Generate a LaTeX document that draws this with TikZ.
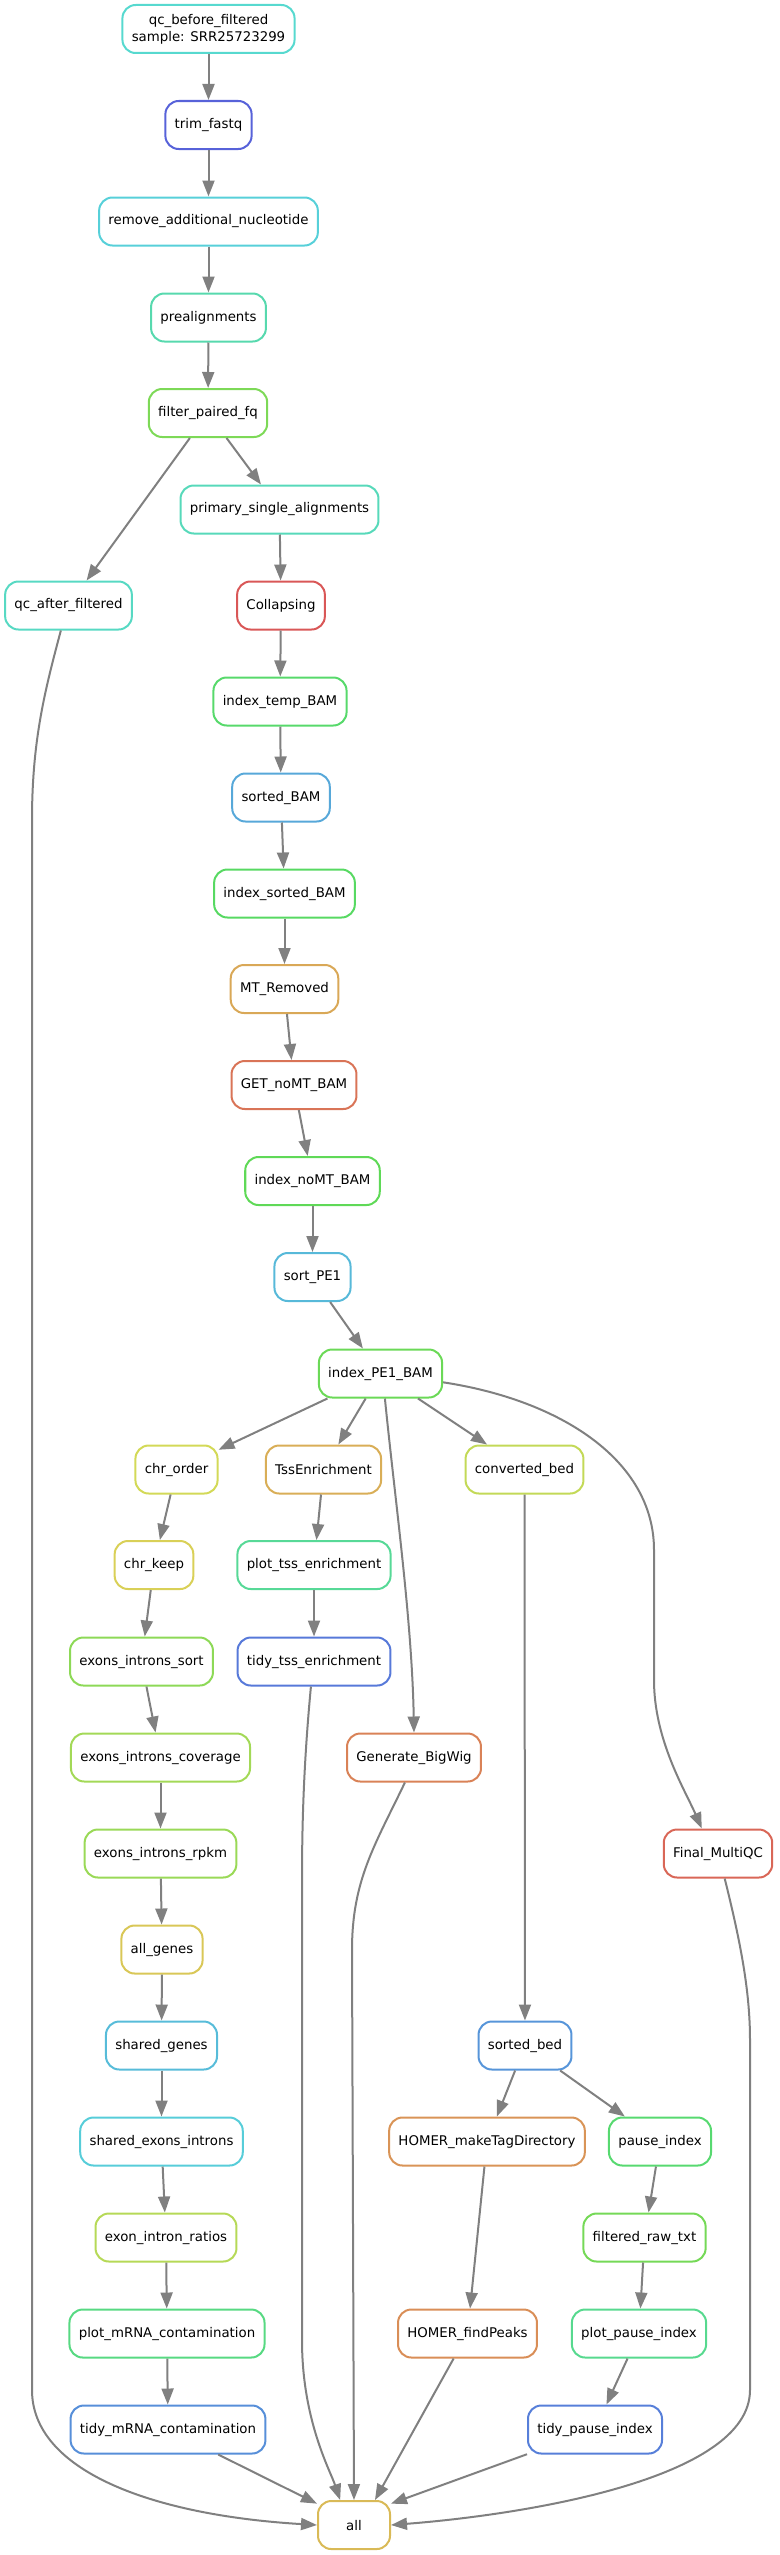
\documentclass[tikz,border=0pt]{standalone}
\usepackage{fontspec}
\setmainfont{DejaVu Sans}
\usepackage[HTML]{xcolor}
\usepackage{tikz}
\usetikzlibrary{arrows.meta}

% rule colours
\definecolor{cQcBefore}{HTML}{57D9CF}
\definecolor{cTrim}{HTML}{5762D9}
\definecolor{cRemove}{HTML}{57D0D9}
\definecolor{cPrealign}{HTML}{57D9AE}
\definecolor{cFilter}{HTML}{7DD957}
\definecolor{cPrimary}{HTML}{57D9BA}
\definecolor{cQcAfter}{HTML}{57D9C3}
\definecolor{cCollapse}{HTML}{D95757}
\definecolor{cIdxTemp}{HTML}{57D96B}
\definecolor{cSortedBam}{HTML}{57A8D9}
\definecolor{cIdxSorted}{HTML}{57D962}
\definecolor{cMtRem}{HTML}{D9A857}
\definecolor{cGetNoMt}{HTML}{D97457}
\definecolor{cIdxNoMt}{HTML}{5FD957}
\definecolor{cSortPe}{HTML}{57B9D9}
\definecolor{cIdxPe}{HTML}{6BD957}
\definecolor{cChrOrder}{HTML}{D3D957}
\definecolor{cChrKeep}{HTML}{D9D057}
\definecolor{cTss}{HTML}{D9AE57}
\definecolor{cConvBed}{HTML}{C3D957}
\definecolor{cPlotTss}{HTML}{57D997}
\definecolor{cTidyTss}{HTML}{5779D9}
\definecolor{cEiSort}{HTML}{8DD957}
\definecolor{cEiCov}{HTML}{A3D957}
\definecolor{cEiRpkm}{HTML}{9AD957}
\definecolor{cAllGenes}{HTML}{D9C757}
\definecolor{cSharedGenes}{HTML}{57BCD9}
\definecolor{cSharedEi}{HTML}{57CDD9}
\definecolor{cEiRatios}{HTML}{B6D957}
\definecolor{cPlotMrna}{HTML}{57D982}
\definecolor{cTidyMrna}{HTML}{578FD9}
\definecolor{cBigWig}{HTML}{D98257}
\definecolor{cMultiQC}{HTML}{D96757}
\definecolor{cSortedBed}{HTML}{5795D9}
\definecolor{cHomerMake}{HTML}{D99457}
\definecolor{cHomerFind}{HTML}{D98E57}
\definecolor{cPause}{HTML}{57D970}
\definecolor{cFiltRaw}{HTML}{75D957}
\definecolor{cPlotPause}{HTML}{57D98F}
\definecolor{cTidyPause}{HTML}{577FD9}
\definecolor{cAll}{HTML}{D9BA57}

\tikzset{
  job/.style={rounded corners=10pt, line width=1.5pt, minimum height=36pt,
    minimum width=54pt, inner xsep=7pt, align=center,
    font=\fontsize{10}{12.75}\selectfont},
  dep/.style={draw=gray, line width=1.5pt, -{Triangle[length=12pt,width=9pt]}}
}

\begin{document}
\begin{tikzpicture}[x=0.75pt, y=-0.75pt]
\useasboundingbox (0,0) rectangle (779,2555);

% Preprocessing chain
\node[job, draw=cQcBefore] (qcb) at (208.5,29) {qc\_before\_filtered\\sample: SRR25723299};
\node[job, draw=cTrim] (trim) at (208.5,125) {trim\_fastq};
\node[job, draw=cRemove] (remove) at (208.5,221.5) {remove\_additional\_nucleotide};
\node[job, draw=cPrealign] (prealign) at (208.5,317.5) {prealignments};
\node[job, draw=cFilter] (filter) at (208,413) {filter\_paired\_fq};
\node[job, draw=cPrimary] (primary) at (279.5,509.5) {primary\_single\_alignments};
\node[job, draw=cQcAfter] (qcafter) at (68.5,605.5) {qc\_after\_filtered};

% BAM handling
\node[job, draw=cCollapse] (collapse) at (281,605.5) {Collapsing};
\node[job, draw=cIdxTemp] (idxtemp) at (280,701.5) {index\_temp\_BAM};
\node[job, draw=cSortedBam] (sortedbam) at (281,797.5) {sorted\_BAM};
\node[job, draw=cIdxSorted] (idxsorted) at (284.5,893.5) {index\_sorted\_BAM};
\node[job, draw=cMtRem] (mtrem) at (284.5,989) {MT\_Removed};
\node[job, draw=cGetNoMt] (getnomt) at (294,1085) {GET\_noMT\_BAM};
\node[job, draw=cIdxNoMt] (idxnomt) at (312.5,1181) {index\_noMT\_BAM};
\node[job, draw=cSortPe] (sortpe) at (312.5,1277) {sort\_PE1};
\node[job, draw=cIdxPe] (idxpe) at (380.5,1373.5) {index\_PE1\_BAM};

% Exon / intron branch
\node[job, draw=cChrOrder] (chrorder) at (176.5,1469.5) {chr\_order};
\node[job, draw=cChrKeep] (chrkeep) at (154,1565) {chr\_keep};
\node[job, draw=cEiSort] (eisort) at (141.5,1661.5) {exons\_introns\_sort};
\node[job, draw=cEiCov] (eicov) at (160.5,1757.5) {exons\_introns\_coverage};
\node[job, draw=cEiRpkm] (eirpkm) at (160.5,1853.5) {exons\_introns\_rpkm};
\node[job, draw=cAllGenes] (allgenes) at (162,1949.5) {all\_genes};
\node[job, draw=cSharedGenes] (sharedgenes) at (161.5,2045.5) {shared\_genes};
\node[job, draw=cSharedEi] (sharedei) at (161.5,2141.5) {shared\_exons\_introns};
\node[job, draw=cEiRatios] (eiratios) at (166,2237.5) {exon\_intron\_ratios};
\node[job, draw=cPlotMrna] (plotmrna) at (167,2333.5) {plot\_mRNA\_contamination};
\node[job, draw=cTidyMrna] (tidymrna) at (168,2429.5) {tidy\_mRNA\_contamination};

% TSS branch
\node[job, draw=cTss] (tss) at (323.5,1469.5) {TssEnrichment};
\node[job, draw=cPlotTss] (plottss) at (314,1565) {plot\_tss\_enrichment};
\node[job, draw=cTidyTss] (tidytss) at (314,1661.5) {tidy\_tss\_enrichment};
\node[job, draw=cBigWig] (bigwig) at (414,1757.5) {Generate\_BigWig};

% Bed / HOMER / pause branch
\node[job, draw=cConvBed] (convbed) at (524.5,1469.5) {converted\_bed};
\node[job, draw=cMultiQC] (multiqc) at (718,1853.5) {Final\_MultiQC};
\node[job, draw=cSortedBed] (sortedbed) at (525,2045.5) {sorted\_bed};
\node[job, draw=cHomerMake] (homermake) at (487,2141.5) {HOMER\_makeTagDirectory};
\node[job, draw=cPause] (pause) at (660,2141.5) {pause\_index};
\node[job, draw=cFiltRaw] (filtraw) at (644.5,2237.5) {filtered\_raw\_txt};
\node[job, draw=cHomerFind] (homerfind) at (467.5,2333.5) {HOMER\_findPeaks};
\node[job, draw=cPlotPause] (plotpause) at (639,2333.5) {plot\_pause\_index};
\node[job, draw=cTidyPause] (tidypause) at (595,2429.5) {tidy\_pause\_index};

% Target
\node[job, draw=cAll] (all) at (354,2525) {all};

% Straight dependencies
\foreach \a/\b in {qcb/trim, trim/remove, remove/prealign, prealign/filter,
    filter/primary, filter/qcafter, primary/collapse, collapse/idxtemp,
    idxtemp/sortedbam, sortedbam/idxsorted, idxsorted/mtrem, mtrem/getnomt,
    getnomt/idxnomt, idxnomt/sortpe, sortpe/idxpe, idxpe/chrorder, idxpe/tss,
    idxpe/convbed, chrorder/chrkeep, chrkeep/eisort, eisort/eicov, eicov/eirpkm,
    eirpkm/allgenes, allgenes/sharedgenes, sharedgenes/sharedei,
    sharedei/eiratios, eiratios/plotmrna, plotmrna/tidymrna, tss/plottss,
    plottss/tidytss, convbed/sortedbed, sortedbed/homermake, sortedbed/pause,
    homermake/homerfind, pause/filtraw, filtraw/plotpause, plotpause/tidypause}
  \draw[dep] (\a) -- (\b);

\draw[dep] (tidymrna) -- (all.150);
\draw[dep] (homerfind) -- (all.50);
\draw[dep] (tidypause) -- (all.30);

% Curved dependencies
\draw[dep] (idxpe.280) .. controls (395,1500) and (412,1620) .. (bigwig.north);
\draw[dep] (idxpe.352) .. controls (560,1400) and (654,1460) .. (654,1550)
  -- (654,1680) .. controls (654,1740) and (685,1790) .. (multiqc.123);
\draw[dep] (qcafter.253) .. controls (45,690) and (32,740) .. (32,820)
  -- (32,2390) .. controls (32,2470) and (150,2515) .. (all.west);
\draw[dep] (tidytss.263) .. controls (304,1760) and (302,1820) .. (302,1880)
  -- (302,2340) .. controls (302,2420) and (330,2470) .. (all.119);
\draw[dep] (bigwig.250) .. controls (375,1845) and (352,1880) .. (352,1950)
  -- (all.north);
\draw[dep] (multiqc.285) .. controls (740,1940) and (750,1990) .. (750,2040)
  -- (750,2390) .. controls (750,2480) and (520,2515) .. (all.east);

\end{tikzpicture}
\end{document}
